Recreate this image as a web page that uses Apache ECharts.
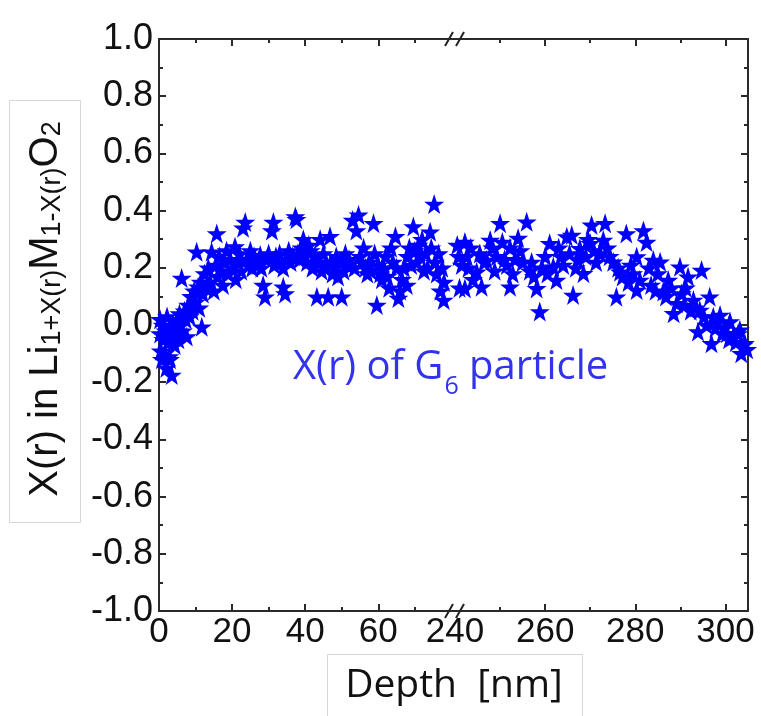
<!DOCTYPE html>
<html><head><meta charset="utf-8">
<script src="https://cdn.jsdelivr.net/npm/echarts@6/dist/echarts.min.js"></script>
<style>html,body{margin:0;padding:0;background:#fff}#c{width:761px;height:716px}</style>
</head><body><div id="c"></div>
<script>
// ---- data (depth in nm, X(r)) ----
const leftPoints = [
[0.3,0.02],[0.3,-0.03],[0.5,-0.09],[0.8,-0.12],[1,0.0],[1.2,-0.05],[1.5,-0.1],[1.8,-0.02],[2,-0.15],[2.2,0.03],
[2.5,-0.06],[2.8,-0.11],[3,-0.12],[3.3,-0.01],[3.5,-0.175],[3.8,-0.04],[4,0.0],[4.3,-0.07],[4.6,-0.03],[5,0.02],
[5.3,-0.05],[5.6,0.04],[6,0.0],[6.2,0.164],[6.5,-0.02],[7,0.05],[7.3,0.02],[7.6,-0.04],[8,0.07],[8.4,0.03],
[8.8,0.1],[9.2,0.05],[9.6,0.12],[10,0.08],[10.3,0.256],[10.7,0.134],[11,0.06],[11.4,0.15],[11.7,-0.006],[12,0.11],
[12.5,0.18],[13,0.13],[13.5,0.2],[14,0.15],[14.4,0.256],[15,0.12],[15.5,0.21],[15.8,0.32],[16,0.17],[16.5,0.24],
[17,0.19],[17.5,0.14],[18,0.22],[18.5,0.26],[19,0.18],[19.5,0.23],[20,0.2],[20.8,0.274],[21,0.16],[21.5,0.22],
[22,0.25],[22.5,0.19],[23,0.34],[23.6,0.36],[24,0.23],[24.5,0.21],[25,0.26],[25.5,0.2],[26,0.24],[26.5,0.22],
[27,0.21],[27.7,0.245],[28,0.2],[28.5,0.14],[29,0.099],[29.5,0.23],[30,0.25],[30.9,0.33],[31.3,0.36],[31.5,0.21],
[32,0.24],[32.5,0.22],[33,0.25],[34,0.134],[34.5,0.11],[34,0.2],[35,0.23],[35.5,0.26],[36,0.22],[36.5,0.24],
[37.3,0.379],[37.6,0.37],[38,0.25],[38.5,0.23],[39,0.27],[39.5,0.30],[40,0.24],[40.5,0.22],[41,0.28],[41.5,0.26],
[42,0.2],[42.5,0.24],[43.2,0.099],[43.5,0.22],[44.1,0.30],[44.5,0.19],[45,0.25],[45.5,0.21],[46.3,0.099],[46.8,0.31],
[47,0.22],[47.5,0.18],[48,0.2],[48.5,0.24],[49,0.17],[49.5,0.22],[50,0.099],[50.5,0.19],[51,0.25],[51.5,0.21],
[52,0.23],[53,0.367],[53.5,0.2],[54,0.33],[54.6,0.385],[55,0.24],[55.5,0.22],[56,0.27],[56.5,0.2],[57,0.18],
[57.5,0.22],[58,0.19],[58.7,0.356],[59,0.25],[59.6,0.07],[60,0.21],[60.5,0.18],[61,0.16],[61.5,0.2],[62,0.24],
[62.5,0.17],[63,0.13],[63.5,0.27],[64,0.22],[64.7,0.31],[65,0.2],[65.5,0.094],[66,0.12],[66.5,0.16],[67,0.2],
[67.8,0.14],[68,0.24],[68.5,0.27],[69,0.21],[69.6,0.344],[70,0.26],[70.5,0.22],[71,0.28],[71.5,0.24],[72,0.3],
[72.5,0.19],[73,0.25],[73.5,0.2],[74.2,0.326],[74.5,0.27],[75.3,0.423],[75.5,0.22],[76,0.18],[76.5,0.25],[77,0.12],
[77.5,0.2],[77.9,0.087],[78,0.15]
];
const rightPoints = [
[240.5,0.28],[240.8,0.24],[241,0.13],[241.5,0.21],[242.2,0.29],[242.6,0.24],[242.2,0.128],[243,0.2],[243.5,0.27],[244,0.16],
[244.8,0.186],[245.5,0.25],[245.9,0.134],[246.5,0.22],[247,0.227],[247.8,0.297],[248.3,0.27],[248.8,0.19],[249.3,0.24],[250,0.356],
[250.5,0.29],[251,0.23],[251.5,0.21],[252.2,0.27],[252.2,0.134],[252.8,0.18],[253.3,0.23],[254,0.304],[254.5,0.26],[255,0.22],
[255.9,0.361],[256.6,0.19],[257,0.22],[257.5,0.17],[258.1,0.128],[258.8,0.047],[259.3,0.2],[260,0.24],[260.5,0.18],[261,0.286],
[261.8,0.204],[262.5,0.157],[263,0.27],[263.5,0.24],[264,0.21],[264.8,0.309],[265.4,0.25],[265.9,0.315],[266.2,0.105],[266.8,0.2],
[267.2,0.23],[267.7,0.268],[268.5,0.181],[269,0.24],[269.5,0.3],[270,0.286],[270.3,0.35],[270.8,0.26],[271.3,0.22],[272.2,0.25],
[272.9,0.297],[273.3,0.356],[273.8,0.27],[274.3,0.24],[275.1,0.221],[275.8,0.099],[276.2,0.2],[276.6,0.186],[277.2,0.17],[278,0.32],
[278.5,0.15],[279,0.21],[279.5,0.18],[280.3,0.239],[280.3,0.122],[281,0.157],[281.8,0.33],[282.5,0.29],[283,0.2],[283.5,0.14],
[284,0.227],[284.5,0.12],[285,0.18],[285.5,0.221],[286.2,0.117],[286.8,0.1],[287.3,0.157],[288,0.13],[288.5,0.041],[289.2,0.076],
[289.9,0.204],[290.3,0.11],[290.8,0.07],[291.2,0.13],[291.7,0.169],[292.3,0.05],[292.9,0.087],[293.5,0.06],[293.9,-0.023],[294.3,0.052],
[294.7,0.192],[295.2,0.03],[295.8,0.0],[296.5,0.099],[296.9,-0.064],[297.3,0.029],[297.8,-0.01],[298.3,0.01],[298.8,0.035],[299.3,-0.03],
[299.8,-0.01],[300.3,-0.029],[300.8,-0.05],[301,0.012],[301.7,-0.041],[302.3,-0.06],[302.8,-0.03],[303.2,-0.017],[303.5,-0.099],[304,-0.07],
[304.3,-0.064],[304.8,-0.085]
];
const leftMajorTicks = [0, 20, 40, 60];
const leftMinorTicks = [10, 30, 50, 70];
const rightLabelTicks = [240, 260, 280, 300];
const rightMajorTicks = [260, 280, 300];
const rightMinorTicks = [250, 270, 290];
const leftRange = [0, 81];
const rightRange = [240, 305];
const yRange = [-1, 1];
const yInterval = 0.2;

// ---- styling ----
const FONT = '"Liberation Sans", Arial, sans-serif';
const TFONT = '"Open Sans", "Noto Sans", sans-serif';
const AX = '#2a2a2a';
const STAR = 'path://M50,0L61.8,35.1L98.1,35.1L68.8,56.7L79.4,90.9L50,69.9L20.6,90.9L31.2,56.7L1.9,35.1L38.2,35.1Z';

function xAxisDef(grid, range, pos, tickVals, len, showLine, labelVals) {
  return {
    type: 'value', gridIndex: grid, min: range[0], max: range[1], position: pos,
    axisLine: { show: showLine, onZero: false, lineStyle: { color: AX, width: 2 } },
    axisTick: { show: true, inside: true, length: len, customValues: tickVals, lineStyle: { color: AX, width: 2 } },
    axisLabel: labelVals ? { show: true, customValues: labelVals, fontSize: 35, margin: 4, color: '#111', fontFamily: FONT } : { show: false },
    splitLine: { show: false }
  };
}
const xAxes = [
  xAxisDef(0, leftRange, 'bottom', leftMajorTicks, 7, true, leftMajorTicks),
  xAxisDef(0, leftRange, 'bottom', leftMinorTicks, 4, false, null),
  xAxisDef(0, leftRange, 'top', leftMajorTicks, 7, true, null),
  xAxisDef(0, leftRange, 'top', leftMinorTicks, 4, false, null),
  xAxisDef(1, rightRange, 'bottom', rightMajorTicks, 7, true, rightLabelTicks),
  xAxisDef(1, rightRange, 'bottom', rightMinorTicks, 4, false, null),
  xAxisDef(1, rightRange, 'top', rightMajorTicks, 7, true, null),
  xAxisDef(1, rightRange, 'top', rightMinorTicks, 4, false, null)
];
function yAxisDef(grid, pos, showLabel) {
  return {
    type: 'value', gridIndex: grid, min: yRange[0], max: yRange[1], interval: yInterval, position: pos,
    axisLine: { show: true, onZero: false, lineStyle: { color: AX, width: 2 } },
    axisTick: { show: true, inside: true, length: 7, lineStyle: { color: AX, width: 2 } },
    minorTick: { show: true, splitNumber: 2, length: 4, lineStyle: { color: AX, width: 2 } },
    axisLabel: { show: showLabel, fontSize: 36, margin: 6, color: '#111', fontFamily: FONT,
      formatter: v => v.toFixed(1) },
    splitLine: { show: false }, minorSplitLine: { show: false }
  };
}

const chart = echarts.init(document.getElementById('c'), null, { renderer: 'canvas' });

// measure annotation pieces
const cv = document.createElement('canvas').getContext('2d');
cv.font = '40px "Open Sans"';
const w1 = cv.measureText('X(r) of G').width;
cv.font = '25px "Open Sans"';
const w2 = cv.measureText('6').width;
const annX = 293, annY = 368;

function slash(cx, cy) {
  return { type: 'line', shape: { x1: cx - 4, y1: cy + 7, x2: cx + 4, y2: cy - 7 },
    style: { stroke: '#222', lineWidth: 2 }, z: 100 };
}

const starStyle = { color: '#0000ff', opacity: 1 };

chart.setOption({
  animation: false,
  backgroundColor: '#fff',
  grid: [
    { left: 159, top: 39, width: 296, height: 572 },
    { left: 455, top: 39, width: 293, height: 572 }
  ],
  xAxis: xAxes,
  yAxis: [yAxisDef(0, 'left', true), yAxisDef(1, 'right', false)],
  series: [
    { type: 'scatter', xAxisIndex: 0, yAxisIndex: 0, data: leftPoints, symbol: STAR, symbolSize: 20,
      itemStyle: starStyle, clip: true, silent: true },
    { type: 'scatter', xAxisIndex: 4, yAxisIndex: 1, data: rightPoints, symbol: STAR, symbolSize: 20,
      itemStyle: starStyle, clip: true, silent: true }
  ],
  graphic: [
    { type: 'rect', shape: { x: 9.5, y: 100.5, width: 71, height: 422 },
      style: { fill: '#fff', stroke: '#d6d6d6', lineWidth: 1 } },
    { type: 'text', x: 46, y: 309, rotation: Math.PI / 2,
      style: { text: '{a|X(r) in Li}{b|1+X(r)}{a|M}{b|1-X(r)}{a|O}{b|2}', align: 'center', verticalAlign: 'middle',
        rich: {
          a: { fontSize: 40, fontFamily: FONT, fill: '#111', verticalAlign: 'bottom' },
          b: { fontSize: 27, fontFamily: FONT, fill: '#111', verticalAlign: 'bottom' }
        } } },
    { type: 'rect', shape: { x: 327.5, y: 654.5, width: 255, height: 70 },
      style: { fill: '#fff', stroke: '#d6d6d6', lineWidth: 1 } },
    { type: 'text', x: 454, y: 686,
      style: { text: 'Depth  [nm]', fontSize: 39, fontFamily: TFONT, fill: '#111', align: 'center', verticalAlign: 'middle' } },
    { type: 'text', x: annX, y: annY,
      style: { text: 'X(r) of G', fontSize: 40, fontFamily: TFONT, fill: '#3333ee', align: 'left', verticalAlign: 'middle' } },
    { type: 'text', x: annX + w1 + 1, y: annY + 19,
      style: { text: '6', fontSize: 25, fontFamily: TFONT, fill: '#3333ee', align: 'left', verticalAlign: 'middle' } },
    { type: 'text', x: annX + w1 + w2 + 1, y: annY,
      style: { text: ' particle', fontSize: 40, fontFamily: TFONT, fill: '#3333ee', align: 'left', verticalAlign: 'middle' } },
    slash(449, 39), slash(460, 39), slash(449, 611), slash(460, 611)
  ]
});
</script></body></html>
